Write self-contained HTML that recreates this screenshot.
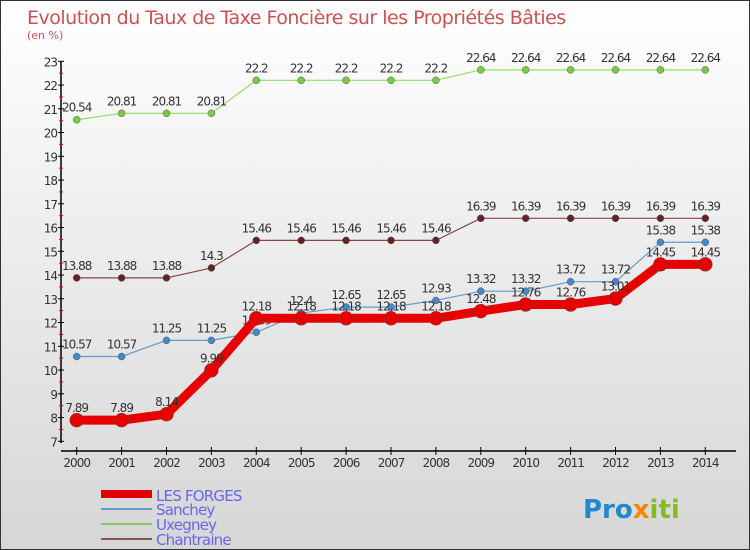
<!DOCTYPE html>
<html><head><meta charset="utf-8">
<style>
body{margin:0;}
#c{width:748px;height:548px;border:1px solid #333;background:linear-gradient(#ffffff,#d6d6d6);position:relative;font-family:"DejaVu Sans","Liberation Sans",sans-serif;overflow:hidden}
svg text{font-family:"DejaVu Sans","Liberation Sans",sans-serif}
</style></head><body>
<div id="c">
<svg id="s" width="748" height="548" xmlns="http://www.w3.org/2000/svg">
<text x="26" y="23" font-size="19" fill="#d05050" letter-spacing="-0.5">Evolution du Taux de Taxe Foncière sur les Propriétés Bâties</text>
<text x="26" y="38" font-size="11" fill="#d05050">(en %)</text>
<g id="axes"></g><g id="series"></g>
<g>
<rect x="100" y="489" width="51" height="8" fill="#e00000"/>
<text x="155" y="500" font-size="15" fill="#6666ee" letter-spacing="-0.8">LES FORGES</text>
<rect x="100" y="507" width="51" height="2" fill="#6699cc"/>
<text x="155" y="514" font-size="15" fill="#6666ee" letter-spacing="-0.8">Sanchey</text>
<rect x="100" y="522" width="51" height="2" fill="#88cc66"/>
<text x="155" y="529" font-size="15" fill="#6666ee" letter-spacing="-0.8">Uxegney</text>
<rect x="100" y="537" width="51" height="2" fill="#885555"/>
<text x="155" y="544" font-size="15" fill="#6666ee" letter-spacing="-0.8">Chantraine</text>
</g>
<text x="582" y="517" font-size="26" font-weight="bold" fill="#2288cc">Pro<tspan fill="#ee8800">x</tspan><tspan fill="#88bb22">iti</tspan></text>
</svg>
</div>
<script>
const years=[2000,2001,2002,2003,2004,2005,2006,2007,2008,2009,2010,2011,2012,2013,2014];
const forges=[7.89,7.89,8.14,9.99,12.18,12.18,12.18,12.18,12.18,12.48,12.76,12.76,13.01,14.45,14.45];
const sanchey=[10.57,10.57,11.25,11.25,11.59,12.4,12.65,12.65,12.93,13.32,13.32,13.72,13.72,15.38,15.38];
const uxegney=[20.54,20.81,20.81,20.81,22.2,22.2,22.2,22.2,22.2,22.64,22.64,22.64,22.64,22.64,22.64];
const chantraine=[13.88,13.88,13.88,14.3,15.46,15.46,15.46,15.46,15.46,16.39,16.39,16.39,16.39,16.39,16.39];
const yTicks=[7,8,9,10,11,12,13,14,15,16,17,18,19,20,21,22,23];
const NS="http://www.w3.org/2000/svg";
const X=i=>75.7+i*44.9;
const Y=v=>440.3-(v-7)*23.75;
function mk(t,a,p){const e=document.createElementNS(NS,t);for(const k in a)e.setAttribute(k,a[k]);p.appendChild(e);return e;}
const ax=document.getElementById('axes'),sr=document.getElementById('series');
let yl=mk('line',{x1:60,y1:60,x2:60,y2:442,stroke:'#000','stroke-width':1.5},ax);


yTicks.forEach(v=>{
 mk('line',{x1:57,y1:Y(v),x2:63,y2:Y(v),stroke:'#000'},ax);
 if(v<23)mk('line',{x1:58,y1:Y(v+0.5),x2:62,y2:Y(v+0.5),stroke:'#e00'},ax);
 const t=mk('text',{x:56,y:Y(v)+5,'text-anchor':'end','font-size':12,fill:'#333','letter-spacing':'-1'},ax);t.textContent=v;
 
 
});
let xl=mk('line',{x1:60,y1:450,x2:735,y2:450,stroke:'#000','stroke-width':1.5},ax);


years.forEach((y,i)=>{
 mk('line',{x1:X(i),y1:446,x2:X(i),y2:454,stroke:'#000'},ax);
 const t=mk('text',{x:X(i),y:466,'text-anchor':'middle','font-size':12,fill:'#333','letter-spacing':'-1'},ax);t.textContent=y;
 
 
});
function series(data,color,w,r,name,dot){
 const g=mk('g',{},sr);
 
 
 mk('polyline',{points:data.map((v,i)=>X(i)+','+Y(v)).join(' '),fill:'none',stroke:color,'stroke-width':w,'stroke-linejoin':'round'},g);
 data.forEach((v,i)=>{
  const c=mk('circle',{cx:X(i),cy:Y(v),r:r,fill:dot,stroke:'#555','stroke-width':0.5},g);
  
  
  const t=mk('text',{x:X(i),y:Y(v)-8,'text-anchor':'middle','font-size':12,fill:'#333','letter-spacing':'-1'},g);t.textContent=v;
  
  
 });
}
series(chantraine,'#884444',1.2,3.5,'series-chantraine','#662222');
series(uxegney,'#99dd66',1.2,3.5,'series-uxegney','#77cc44');
series(sanchey,'#6699cc',1.2,3.5,'series-sanchey','#4488cc');
series(forges,'#e80000',9,7,'series-les-forges','#e80000');
</script>
</body></html>
